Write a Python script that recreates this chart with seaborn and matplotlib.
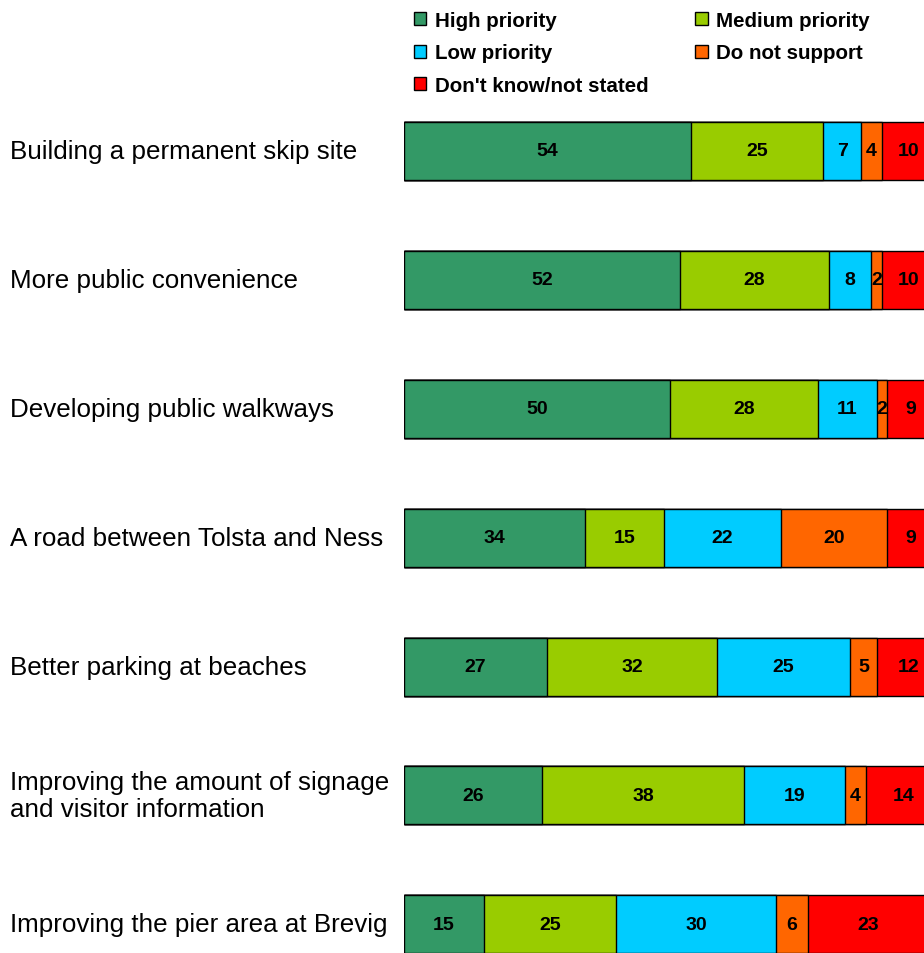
import matplotlib
matplotlib.use("Agg")
import numpy as np
import pandas as pd
import matplotlib.pyplot as plt
import matplotlib.transforms as mtransforms
from matplotlib.patches import Patch
import seaborn as sns

sns.set_theme(style="white")
plt.rcParams['font.family'] = ['Liberation Sans', 'DejaVu Sans']
plt.rcParams['text.color'] = 'black'

# ------------------------
# Data (percent of respondents)
# ------------------------
categories = [
    "Building a permanent skip site",
    "More public convenience",
    "Developing public walkways",
    "A road between Tolsta and Ness",
    "Better parking at beaches",
    "Improving the amount of signage\nand visitor information",
    "Improving the pier area at Brevig",
]
high = [54, 52, 50, 34, 27, 26, 15]
medium = [25, 28, 28, 15, 32, 38, 25]
low = [7, 8, 11, 22, 25, 19, 30]
no_support = [4, 2, 2, 20, 5, 4, 6]
dont_know = [10, 10, 9, 9, 12, 14, 23]

series_names = ["High priority", "Medium priority", "Low priority",
                "Do not support", "Don't know/not stated"]
colors = ["#339966", "#99CC00", "#00CCFF", "#FF6600", "#FF0000"]

df = pd.DataFrame({"category": categories})
for name, vals in zip(series_names, [high, medium, low, no_support, dont_know]):
    df[name] = vals

# cumulative totals for stacking
cum = df[series_names].cumsum(axis=1)

# ------------------------
# Figure
# ------------------------
W, H = 924, 954
fig = plt.figure(figsize=(W / 100, H / 100), dpi=100)
ax = fig.add_axes([404 / W, 0, 531 / W, 866.5 / H])

# draw from the longest cumulative bar down, each overlaid on the previous
for name, col in reversed(list(zip(series_names, colors))):
    sns.barplot(x=cum[name], y=df["category"], orient="h", color=col,
                width=0.45, edgecolor="black", linewidth=1.0,
                errorbar=None, saturation=1, ax=ax)

# value labels in the middle of each segment
for i in range(len(df)):
    left = 0
    for name in series_names:
        v = df.loc[i, name]
        ax.text(left + v / 2, i, str(v), ha="center", va="center",
                fontsize=14, fontweight="bold", color="black")
        left += v

ax.set_xlim(0, 100)
ax.set_ylim(6.222, -0.5)
ax.set_xlabel("")
ax.set_ylabel("")
ax.set_xticks([])
ax.set_yticks([])
for s in ax.spines.values():
    s.set_visible(False)

# category labels, left aligned at the figure edge
trans = mtransforms.blended_transform_factory(fig.transFigure, ax.transData)
for i, cat in enumerate(categories):
    ax.text(10 / W, i, cat, transform=trans, ha="left", va="center",
            fontsize=18.7, color="black", linespacing=1.15)

# legend: rows High/Medium, Low/Do not support, Don't know
handles = [Patch(facecolor=c, edgecolor="black", linewidth=1.0) for c in colors]
order = [0, 2, 4, 1, 3]
leg = fig.legend([handles[k] for k in order], [series_names[k] for k in order],
                 loc="upper left", bbox_to_anchor=(414 / W, 1 - 12 / H), ncol=2,
                 frameon=False, prop={"size": 14.8, "weight": "bold"},
                 handlelength=0.6, handleheight=0.6, handletextpad=0.4,
                 columnspacing=2.3, labelspacing=0.65, borderpad=0, borderaxespad=0)
for t in leg.get_texts():
    t.set_color("black")

fig.savefig("out.png", dpi=100)
